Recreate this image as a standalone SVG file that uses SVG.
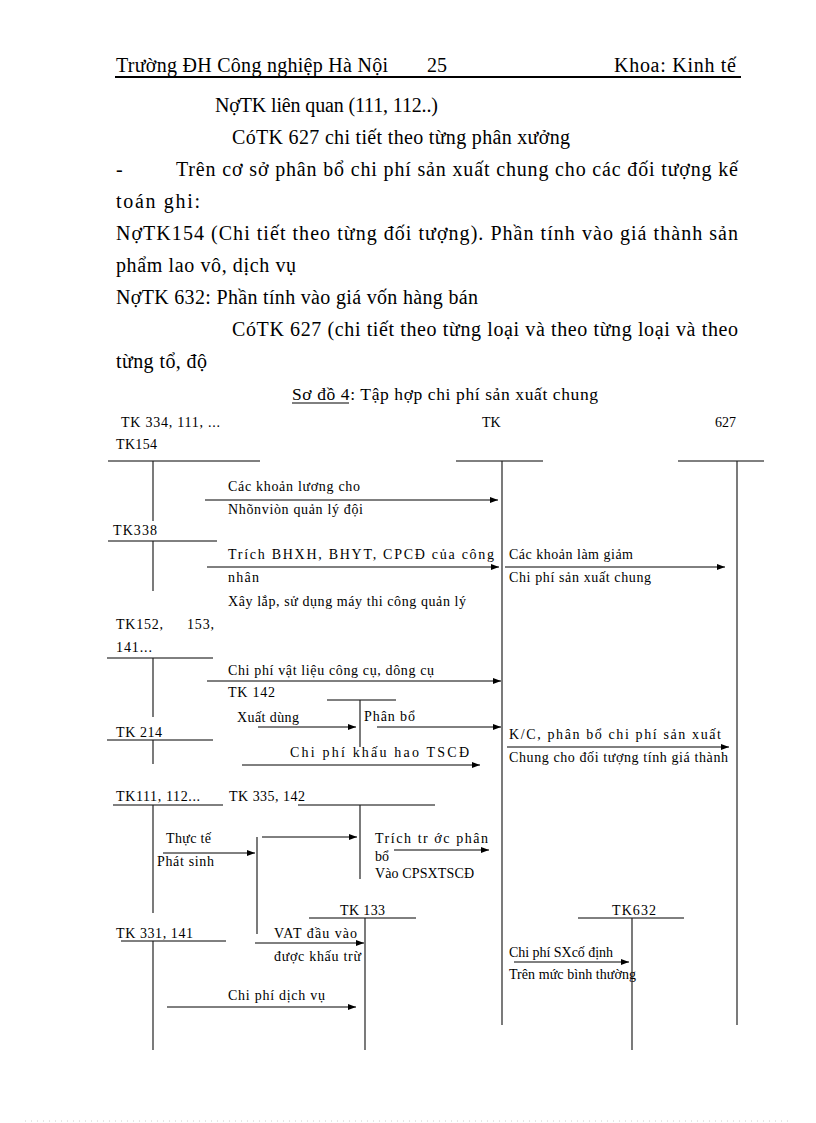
<svg xmlns="http://www.w3.org/2000/svg" width="816" height="1123" viewBox="0 0 816 1123">
<style>
text{font-family:"Liberation Serif","Times New Roman",serif;fill:#000}
.b{font-size:20px}
.t{font-size:17.5px}
.s{font-size:14px}
.ln{stroke:#000;stroke-width:1;fill:none}
.v{stroke:#222;stroke-width:1.2;fill:none}
.ar{stroke:#000;stroke-width:1;fill:none;marker-end:url(#ah)}
</style>
<defs>
<marker id="ah" viewBox="0 0 8 6" refX="8" refY="3" markerWidth="8" markerHeight="6" markerUnits="userSpaceOnUse" orient="auto">
<path d="M0,0 L8,3 L0,6 Z" fill="#000"/>
</marker>
</defs>
<rect width="816" height="1123" fill="#fff"/>

<g id="header">
<text class="b" x="116" y="72" textLength="272" lengthAdjust="spacing">Trường ĐH Công nghiệp Hà Nội</text>
<text class="b" x="427" y="72">25</text>
<text class="b" x="614" y="72" textLength="122" lengthAdjust="spacing">Khoa: Kinh tế</text>
<line x1="115" y1="77" x2="741" y2="77" stroke="#000" stroke-width="2"/>
</g>

<g id="body">
<text class="b" x="215" y="112" textLength="223" lengthAdjust="spacing">NợTK liên quan (111, 112..)</text>
<text class="b" x="232" y="144" textLength="338" lengthAdjust="spacing">CóTK 627 chi tiết theo từng phân xưởng</text>
<text class="b" x="116" y="176">-</text>
<text class="b" x="176" y="176" textLength="562" lengthAdjust="spacing">Trên cơ sở phân bổ chi phí sản xuất chung cho các đối tượng kế</text>
<text class="b" x="116" y="208" textLength="84" lengthAdjust="spacing">toán ghi:</text>
<text class="b" x="116" y="240" textLength="622" lengthAdjust="spacing">NợTK154 (Chi tiết theo từng đối tượng). Phần tính vào giá thành sản</text>
<text class="b" x="116" y="272" textLength="180" lengthAdjust="spacing">phẩm lao vô, dịch vụ</text>
<text class="b" x="116" y="304" textLength="362" lengthAdjust="spacing">NợTK 632: Phần tính vào giá vốn hàng bán</text>
<text class="b" x="232" y="336" textLength="506" lengthAdjust="spacing">CóTK 627 (chi tiết theo từng loại và theo từng loại và theo</text>
<text class="b" x="116" y="368" textLength="91" lengthAdjust="spacing">từng tổ, độ</text>
</g>

<g id="title">
<text class="t" x="292" y="400" textLength="306" lengthAdjust="spacing">Sơ đồ 4: Tập hợp chi phí sản xuất chung</text>
<line x1="292" y1="403" x2="349" y2="403" stroke="#000" stroke-width="1"/>
</g>

<g id="tk627">
<text class="s" x="482" y="427">TK</text>
<text class="s" x="715" y="427">627</text>
<line class="ln" x1="456" y1="461" x2="543" y2="461"/>
<line class="v" x1="502" y1="461" x2="502" y2="1025"/>
</g>

<g id="tk154">
<text class="s" x="121" y="427" textLength="99" lengthAdjust="spacing">TK 334, 111, ...</text>
<text class="s" x="116" y="449" textLength="41" lengthAdjust="spacing">TK154</text>
<line class="ln" x1="108" y1="461" x2="260" y2="461"/>
<line class="v" x1="153" y1="461" x2="153" y2="521"/>
</g>

<g id="tk_right">
<line class="ln" x1="678" y1="461" x2="764" y2="461"/>
<line class="v" x1="737" y1="461" x2="737" y2="1025"/>
</g>

<g id="tk338">
<text class="s" x="113" y="535" textLength="44" lengthAdjust="spacing">TK338</text>
<line class="ln" x1="108" y1="541" x2="217" y2="541"/>
<line class="v" x1="153" y1="541" x2="153" y2="591"/>
</g>

<g id="tk152">
<text class="s" x="116" y="629" textLength="47" lengthAdjust="spacing">TK152,</text>
<text class="s" x="187" y="629" textLength="27" lengthAdjust="spacing">153,</text>
<text class="s" x="116" y="652" textLength="36" lengthAdjust="spacing">141...</text>
<line class="ln" x1="107" y1="658" x2="213" y2="658"/>
<line class="v" x1="153" y1="658" x2="153" y2="717"/>
</g>

<g id="tk142">
<text class="s" x="228" y="697" textLength="47" lengthAdjust="spacing">TK 142</text>
<line class="ln" x1="327" y1="700" x2="396" y2="700"/>
<line class="v" x1="360" y1="700" x2="360" y2="747"/>
</g>

<g id="tk214">
<text class="s" x="116" y="737" textLength="46" lengthAdjust="spacing">TK 214</text>
<line class="ln" x1="107" y1="740" x2="213" y2="740"/>
<line class="v" x1="153" y1="740" x2="153" y2="764"/>
</g>

<g id="tk111">
<text class="s" x="116" y="801" textLength="84" lengthAdjust="spacing">TK111, 112...</text>
<line class="ln" x1="113" y1="805" x2="223" y2="805"/>
<line class="v" x1="153" y1="805" x2="153" y2="913"/>
</g>

<g id="tk335">
<text class="s" x="229" y="801" textLength="76" lengthAdjust="spacing">TK 335, 142</text>
<line class="ln" x1="298" y1="805" x2="435" y2="805"/>
<line class="v" x1="360" y1="805" x2="360" y2="879"/>
</g>

<g id="tk_mid">
<line class="v" x1="257" y1="837" x2="257" y2="934"/>
</g>

<g id="tk133">
<text class="s" x="340" y="915" textLength="45" lengthAdjust="spacing">TK 133</text>
<line class="ln" x1="309" y1="918" x2="416" y2="918"/>
<line class="v" x1="365" y1="918" x2="365" y2="1050"/>
</g>

<g id="tk632">
<text class="s" x="612" y="915" textLength="44" lengthAdjust="spacing">TK632</text>
<line class="ln" x1="578" y1="918" x2="684" y2="918"/>
<line class="v" x1="632" y1="918" x2="632" y2="1050"/>
</g>

<g id="tk331">
<text class="s" x="116" y="938" textLength="77" lengthAdjust="spacing">TK 331, 141</text>
<line class="ln" x1="121" y1="941" x2="226" y2="941"/>
<line class="v" x1="153" y1="941" x2="153" y2="1050"/>
</g>

<g id="connectors">
<line class="ar" x1="205" y1="500" x2="498" y2="500"/>
<line class="ar" x1="207" y1="567" x2="499" y2="567"/>
<line class="ar" x1="505" y1="567" x2="725" y2="567"/>
<line class="ar" x1="207" y1="681" x2="501" y2="681"/>
<line class="ar" x1="258" y1="727" x2="356" y2="727"/>
<line class="ar" x1="377" y1="727" x2="501" y2="727"/>
<line class="ar" x1="242" y1="765" x2="480" y2="765"/>
<line class="ar" x1="507" y1="747" x2="729" y2="747"/>
<line class="ar" x1="163" y1="853" x2="255" y2="853"/>
<line class="ar" x1="262" y1="837" x2="357" y2="837"/>
<line class="ar" x1="394" y1="850" x2="489" y2="850"/>
<line class="ar" x1="255" y1="943" x2="364" y2="943"/>
<line class="ar" x1="167" y1="1007" x2="356" y2="1007"/>
<line class="ar" x1="514" y1="962" x2="629" y2="962"/>
</g>

<g id="labels">
<text class="s" x="228" y="491" textLength="132" lengthAdjust="spacing">Các khoản lương cho</text>
<text class="s" x="228" y="514" textLength="135" lengthAdjust="spacing">Nhõnviòn quản lý đội</text>
<text class="s" x="228" y="559" textLength="266" lengthAdjust="spacing">Trích BHXH, BHYT, CPCĐ của công</text>
<text class="s" x="228" y="582" textLength="31" lengthAdjust="spacing">nhân</text>
<text class="s" x="228" y="606" textLength="238" lengthAdjust="spacing">Xây lắp, sử dụng máy thi công quản lý</text>
<text class="s" x="509" y="559" textLength="124" lengthAdjust="spacing">Các khoản làm giảm</text>
<text class="s" x="509" y="582" textLength="142" lengthAdjust="spacing">Chi phí sản xuất chung</text>
<text class="s" x="228" y="675" textLength="206" lengthAdjust="spacing">Chi phí vật liệu công cụ, dông cụ</text>
<text class="s" x="237" y="722" textLength="62" lengthAdjust="spacing">Xuất dùng</text>
<text class="s" x="364" y="721" textLength="51" lengthAdjust="spacing">Phân bổ</text>
<text class="s" x="290" y="757" textLength="179" lengthAdjust="spacing">Chi phí khấu hao TSCĐ</text>
<text class="s" x="509" y="739" textLength="212" lengthAdjust="spacing">K/C, phân bổ chi phí sản xuất</text>
<text class="s" x="509" y="762" textLength="219" lengthAdjust="spacing">Chung cho đối tượng tính giá thành</text>
<text class="s" x="166" y="843" textLength="45" lengthAdjust="spacing">Thực tế</text>
<text class="s" x="157" y="866" textLength="57" lengthAdjust="spacing">Phát sinh</text>
<text class="s" x="375" y="843" textLength="113" lengthAdjust="spacing">Trích tr ớc phân</text>
<text class="s" x="375" y="861">bổ</text>
<text class="s" x="375" y="878" textLength="99" lengthAdjust="spacing">Vào CPSXTSCĐ</text>
<text class="s" x="274" y="938" textLength="83" lengthAdjust="spacing">VAT đầu vào</text>
<text class="s" x="274" y="961" textLength="87" lengthAdjust="spacing">được khấu trừ</text>
<text class="s" x="228" y="1000" textLength="97" lengthAdjust="spacing">Chi phí dịch vụ</text>
<text class="s" x="509" y="957" textLength="104" lengthAdjust="spacing">Chi phí SXcố định</text>
<text class="s" x="509" y="979" textLength="127" lengthAdjust="spacing">Trên mức bình thường</text>
</g>

<g id="page-edge">
<line x1="25" y1="1121" x2="792" y2="1121" stroke="#ccc" stroke-width="1" stroke-dasharray="1,5"/>
</g>
</svg>
